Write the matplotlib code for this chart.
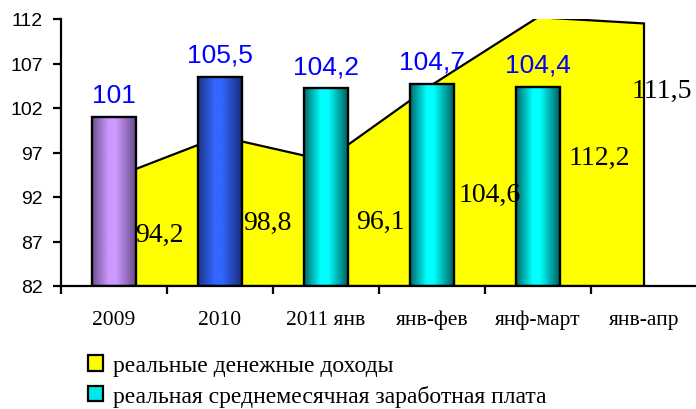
import matplotlib
matplotlib.use('Agg')
import matplotlib.pyplot as plt
import numpy as np
from matplotlib.colors import LinearSegmentedColormap
from matplotlib.patches import Patch

# ---- data ----
categories = ['2009', '2010', '2011 янв', 'янв-фев', 'янф-март', 'янв-апр']
income = [94.2, 98.8, 96.1, 104.6, 112.2, 111.5]
wage = [101, 105.5, 104.2, 104.7, 104.4]
income_labels = ['94,2', '98,8', '96,1', '104,6', '112,2', '111,5']
wage_labels = ['101', '105,5', '104,2', '104,7', '104,4']
yticks = [82, 87, 92, 97, 102, 107, 112]
series_names = ['реальные денежные доходы', 'реальная среднемесячная заработная плата']

# label placement (data coords) for the income labels, as in the original
income_label_x = [0.43, 1.45, 2.51, 3.54, 4.58, 5.17]
income_label_y = [87.8, 89.2, 89.3, 92.3, 96.4, 104.0]

SERIF = 'Liberation Serif'
SANS = 'Liberation Sans'

fig = plt.figure(figsize=(6.96, 4.10), dpi=100)
ax = fig.add_axes([61 / 696, 0.30, 636 / 696, 267 / 410])

base = yticks[0]
x = np.arange(len(categories))

# ---- area (income) ----
poly_x = [x[0]] + list(x) + [x[-1]]
poly_y = [base] + income + [base]
ax.fill(poly_x, poly_y, facecolor='#FFFF00', edgecolor='black', linewidth=1.6, zorder=2)

# ---- bars (wage) with gradients ----
grad_colors = [
    ['#6E5090', '#CC99FF', '#CC99FF', '#6A4C8A'],
    ['#1C3488', '#3366FF', '#3366FF', '#182C78'],
    ['#006868', '#00FFFF', '#00FFFF', '#006060'],
    ['#006868', '#00FFFF', '#00FFFF', '#006060'],
    ['#006868', '#00FFFF', '#00FFFF', '#006060'],
]
bar_w = 0.41
bx = x[:len(wage)]
bars = ax.bar(bx, [w - base for w in wage], bottom=base, width=bar_w,
              facecolor='none', edgecolor='black', linewidth=1.7, zorder=4)
grad = np.linspace(0, 1, 256).reshape(1, -1)
for b, cols in zip(bars, grad_colors):
    cmap = LinearSegmentedColormap.from_list('g', list(zip([0, 0.38, 0.55, 1], cols)))
    x0 = b.get_x()
    ax.imshow(grad, cmap=cmap, extent=[x0, x0 + b.get_width(), base, base + b.get_height()],
              aspect='auto', zorder=3, interpolation='bilinear')

# ---- labels ----
for xi, w, lab in zip(bx, wage, wage_labels):
    ax.annotate(lab, (xi, w), xytext=(0, 11), textcoords='offset points',
                ha='center', va='baseline', color='#0000FF', fontsize=19, family=SANS, zorder=6)
for lx, ly, lab in zip(income_label_x, income_label_y, income_labels):
    ax.text(lx, ly, lab, ha='center', va='center', fontsize=20, family=SERIF,
            color='black', zorder=5)

# ---- axes ----
ax.set_xlim(-0.5, 5.5)
ax.set_ylim(yticks[0], yticks[-1])
ax.set_yticks(yticks)
ax.set_yticklabels([str(t) for t in yticks], family=SANS, fontsize=14)
ax.set_xticks(np.arange(-0.5, len(categories) - 1, 1))
ax.set_xticklabels([])
ax.set_xticks(x, minor=True)
ax.set_xticklabels(categories, minor=True, family=SERIF, fontsize=15.5)
ax.tick_params(axis='x', which='major', direction='out', length=6, width=1.6)
ax.tick_params(axis='x', which='minor', length=0, pad=17)
ax.tick_params(axis='y', direction='out', length=6, width=1.6, pad=7)
for s in ['top', 'right']:
    ax.spines[s].set_visible(False)
for s in ['left', 'bottom']:
    ax.spines[s].set_linewidth(1.6)
    ax.spines[s].set_zorder(7)

# ---- legend ----
handles = [Patch(facecolor='#FFFF00', edgecolor='black', linewidth=1.6),
           Patch(facecolor='#00E8E8', edgecolor='black', linewidth=1.6)]
fig.legend(handles, series_names, loc='upper left', bbox_to_anchor=(88 / 696, 1 - 356 / 410),
           frameon=False, borderpad=0, borderaxespad=0, handlelength=0.64, handleheight=0.64,
           handletextpad=0.4, labelspacing=0.36, prop={'family': SERIF, 'size': 17})

fig.savefig('out.png', dpi=100)
